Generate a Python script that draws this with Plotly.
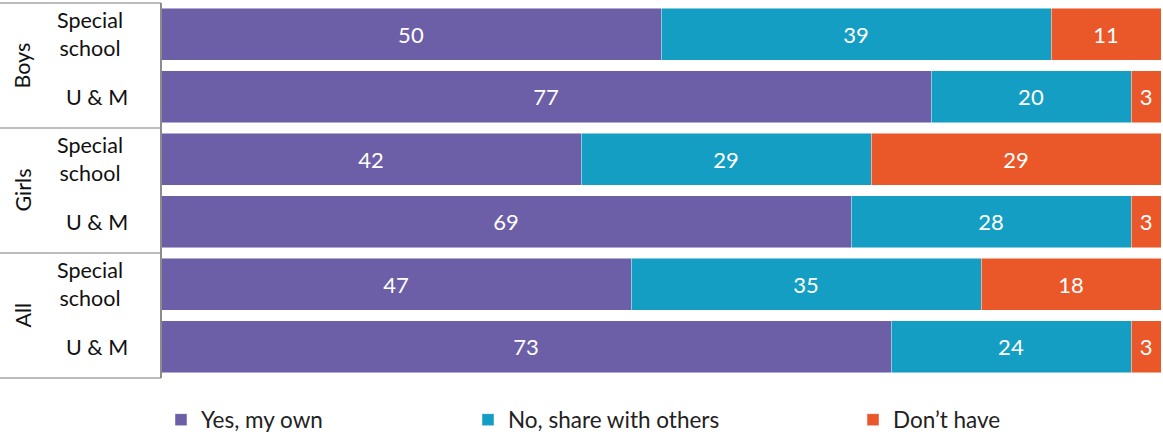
import plotly.graph_objects as go

# Survey answers (%), one row per group/school type, top to bottom
groups = ["Boys", "Girls", "All"]
schools = ["Special<br>school", "U & M"]
rows = ["Boys|Special", "Boys|U&M", "Girls|Special", "Girls|U&M", "All|Special", "All|U&M"]

yes_own = [50, 77, 42, 69, 47, 73]
share_others = [39, 20, 29, 28, 35, 24]
dont_have = [11, 3, 29, 3, 18, 3]

series = [
    ("Yes, my own", yes_own, "#6C5FA7", "legend"),
    ("No, share with others", share_others, "#149EC3", "legend2"),
    ("Don\u2019t have", dont_have, "#EA582A", "legend3"),
]

FONT = "Lato, 'Open Sans', sans-serif"

fig = go.Figure()
for name, vals, color, leg in series:
    fig.add_trace(go.Bar(
        y=rows, x=vals, name=name, orientation="h",
        marker=dict(color=color, line=dict(color="rgba(255,255,255,0.6)", width=0.8)),
        text=[str(v) for v in vals], textposition="inside",
        insidetextanchor="middle", textangle=0,
        textfont=dict(color="white", size=22, family=FONT),
        legend=leg, width=0.83,
    ))

# Category labels on the left (two-level axis)
annotations = []
for i, r in enumerate(rows):
    annotations.append(dict(
        x=-0.071 if i % 2 == 0 else -0.064, xref="paper", y=r, yref="y",
        text=schools[i % 2], showarrow=False, xanchor="center", yanchor="middle",
        font=dict(size=21.5, family=FONT, color="#111"), align="center",
    ))
for g_i, g in enumerate(groups):
    annotations.append(dict(
        x=-0.139, xref="paper", y=1 - (2 * g_i + 1) / 6, yref="paper",
        text=g, textangle=-90, showarrow=False,
        xanchor="center", yanchor="middle",
        font=dict(size=21.5, family=FONT, color="#111"),
    ))

# Divider lines of the category axis
shapes = []
for frac in [1, 2 / 3, 1 / 3, 0]:
    shapes.append(dict(type="line", xref="paper", yref="paper",
                       x0=-0.161, x1=0, y0=frac, y1=frac,
                       line=dict(color="#A6A6A6", width=1.5)))
shapes.append(dict(type="line", xref="paper", yref="paper",
                   x0=0, x1=0, y0=0, y1=1,
                   line=dict(color="#8C8C8C", width=2)))

legend_common = dict(orientation="h", yanchor="middle", y=-0.112, xanchor="left",
                     font=dict(size=22.5, family=FONT, color="#222"),
                     bgcolor="rgba(0,0,0,0)", itemwidth=30, tracegroupgap=0)

fig.update_layout(
    width=1163, height=436,
    margin=dict(l=161, r=2, t=3, b=58, autoexpand=False),
    paper_bgcolor="white", plot_bgcolor="white",
    barmode="stack",
    xaxis=dict(range=[0, 100], showgrid=False, showticklabels=False,
               zeroline=False, showline=False, fixedrange=True),
    yaxis=dict(categoryorder="array", categoryarray=rows[::-1],
               range=[-0.5, 5.5], showticklabels=False, showgrid=False,
               zeroline=False, showline=False, ticks=""),
    annotations=annotations, shapes=shapes,
    legend=dict(x=0.0, **legend_common),
    legend2=dict(x=0.307, **legend_common),
    legend3=dict(x=0.692, **legend_common),
    showlegend=True,
)

fig.write_html("out.html")
